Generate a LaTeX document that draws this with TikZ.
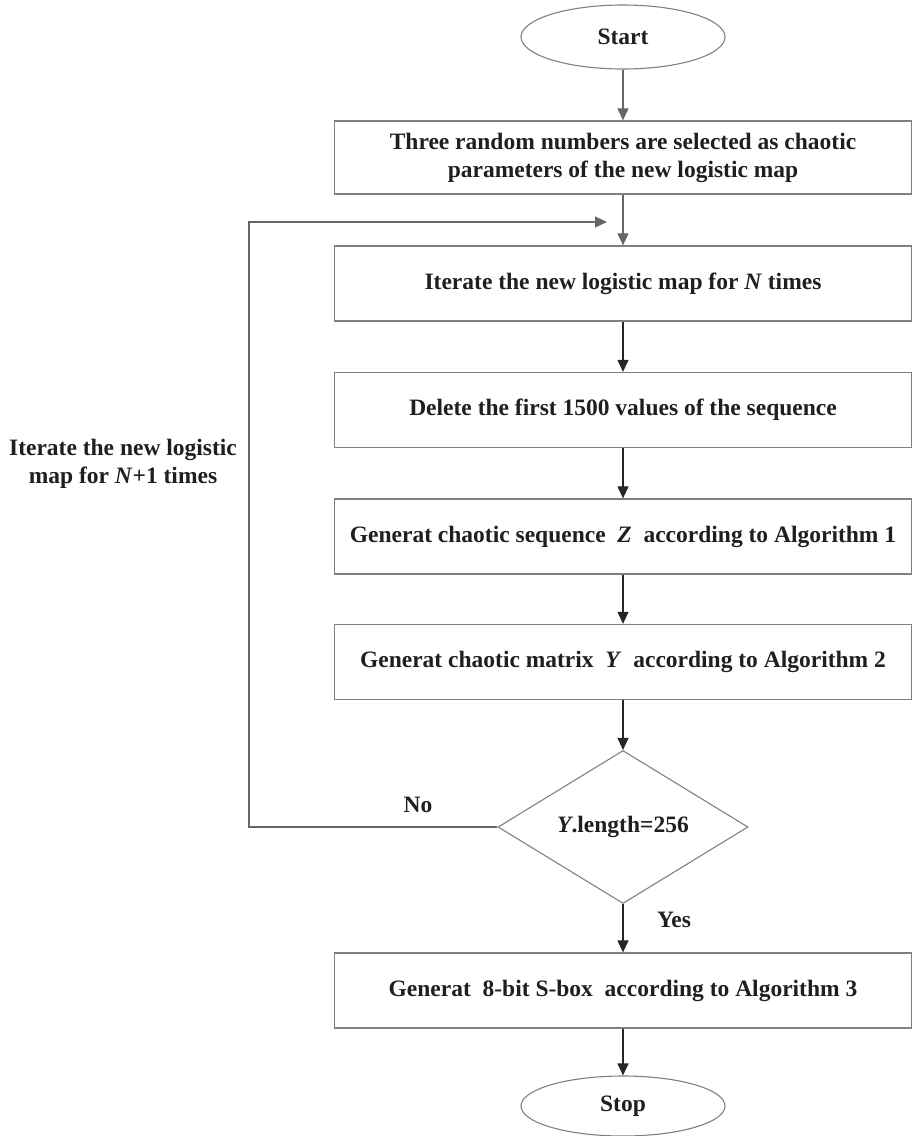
\documentclass[tikz,border=0pt]{standalone}
\usepackage{fontspec}
\setmainfont{Liberation Serif}
\usetikzlibrary{shapes.geometric,arrows.meta}
\begin{document}
\begin{tikzpicture}[x=1pt,y=-1pt,
  every node/.style={font=\fontsize{23.5}{28}\selectfont\bfseries, text=black!88},
  proc/.style={draw=black!50, line width=1.3pt, rectangle, minimum width=577pt, minimum height=75pt, align=center, inner sep=0pt},
  term/.style={draw=black!50, line width=1.1pt, ellipse, minimum width=204pt, minimum height=64pt, inner sep=0pt},
  decide/.style={draw=black!50, line width=1.1pt, diamond, minimum width=250pt, minimum height=150pt, inner sep=0pt},
  flow/.style={draw=black!85, line width=1.2pt, -{Triangle[length=12pt,width=11pt]}},
  grayflow/.style={draw=black!60, line width=1.2pt, -{Triangle[length=12pt,width=11pt]}},
  lbl/.style={align=center, inner sep=0pt}
]
\useasboundingbox (0,0) rectangle (912,1136);

\node[term] (start) at (623,37) {Start};
\node[proc, minimum height=73pt] (p1) at (623,157.5) {Three random numbers are selected as chaotic\\parameters of the new logistic map};
\node[proc] (p2) at (623,283.5) {Iterate the new logistic map for \textit{N} times};
\node[proc] (p3) at (623,410) {Delete the first 1500 values of the sequence};
\node[proc] (p4) at (623,536.5) {Generat chaotic sequence\ \ \textit{Z}\ \ according to Algorithm 1};
\node[proc] (p5) at (623,662) {Generat chaotic matrix\ \ \textit{Y}\ \ according to Algorithm 2};
\node[decide] (d) at (623,827) {\textit{Y}.length=256};
\node[proc] (p6) at (623,990.5) {Generat\ \ 8-bit S-box\ \ according to Algorithm 3};
\node[term, minimum height=60pt] (stop) at (623,1106) {Stop};

\node[lbl] (no) at (418,805) {No};
\node[lbl] (yes) at (674,920) {Yes};
\node[lbl] (fb) at (123,464) {Iterate the new logistic\\map for \textit{N}+1 times};

\coordinate (fbc) at (249,827);
\coordinate (fbt) at (249,222);
\coordinate (fbend) at (607,222);

\draw[grayflow] (start) -- (p1);
\draw[grayflow] (p1) -- (p2);
\draw[flow] (p2) -- (p3);
\draw[flow] (p3) -- (p4);
\draw[flow] (p4) -- (p5);
\draw[flow] (p5) -- (d);
\draw[flow] (d) -- (p6);
\draw[flow] (p6) -- (stop);
\draw[grayflow] (d.west) -- (fbc) -- (fbt) -- (fbend);
\end{tikzpicture}
\end{document}
